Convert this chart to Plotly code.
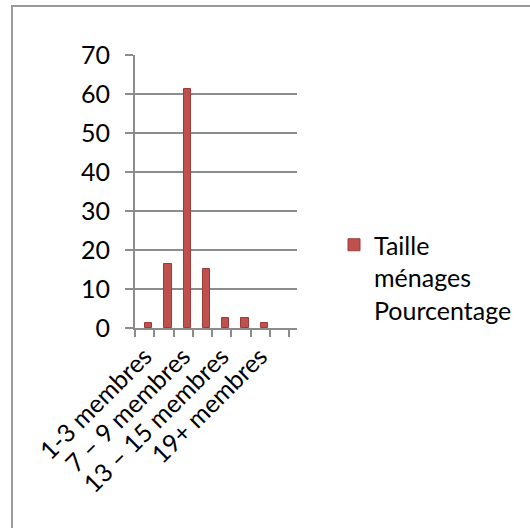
import plotly.graph_objects as go

# Data
categories = ["1-3 membres", "4 – 6 membres", "7 – 9 membres", "10 – 12 membres",
              "13 – 15 membres", "16 – 18 membres", "19+ membres", ""]
pourcentage = [1.2, 16.3, 61.4, 15.1, 2.5, 2.5, 1.2, None]
series_name = "Taille<br>ménages<br>Pourcentage"
y_ticks = [0, 10, 20, 30, 40, 50, 60, 70]

W, H = 530, 528
L, R, T, B = 135, 297, 55, 328  # plot area in pixels

x_pos = list(range(len(categories)))
n = len(categories)
unit = (289 - L) / n  # pixels per category at front floor
x_max = -0.5 + (R - L) / unit

def px_x(p):
    return (p - L) / (R - L)

def px_y(p):
    return (B - p) / (B - T)

fig = go.Figure()
fig.add_trace(go.Bar(
    x=x_pos, y=pourcentage, name=series_name,
    marker=dict(color="#C0504D", line=dict(color="#9E3B38", width=1)),
    width=0.38, offset=0.02,
    showlegend=True,
))

grid_col = "#8C8C8C"
font_family = "Lato, 'Open Sans', sans-serif"

fig.update_layout(
    width=W, height=H,
    margin=dict(l=L, r=W - R, t=T, b=H - B, pad=0),
    paper_bgcolor="white", plot_bgcolor="white",
    font=dict(family=font_family, size=25, color="black"),
    bargap=0,
    showlegend=True,
    legend=dict(
        x=px_x(334), y=px_y(222), xanchor="left", yanchor="top",
        font=dict(size=25, family=font_family, color="black"),
        itemwidth=30, valign="top", bgcolor="rgba(0,0,0,0)",
        tracegroupgap=0,
    ),
    xaxis=dict(
        range=[-0.5, x_max],
        tickmode="array", tickvals=x_pos[::2], ticktext=categories[::2],
        tickangle=-45, ticks="", showgrid=False, zeroline=False,
        showline=True, linecolor=grid_col, linewidth=2,
        tickfont=dict(size=25),
        ticklabelstandoff=2,
        minor=dict(tickmode="array", tickvals=[i - 0.5 for i in range(n + 1)],
                   ticks="outside", ticklen=7, tickcolor=grid_col, tickwidth=2,
                   showgrid=False),
        fixedrange=True,
    ),
    yaxis=dict(
        range=[0, 70], tickmode="array", tickvals=y_ticks,
        ticks="outside", ticklen=8, tickcolor=grid_col, tickwidth=2,
        showgrid=True, gridcolor=grid_col, gridwidth=2,
        zeroline=False, showline=True, linecolor=grid_col, linewidth=2,
        tickfont=dict(size=25), ticklabelstandoff=10,
        fixedrange=True,
    ),
    shapes=[dict(
        type="rect", xref="paper", yref="paper",
        x0=px_x(12), x1=px_x(W + 10), y0=px_y(H + 10), y1=px_y(6),
        line=dict(color="#9A9A9A", width=2), fillcolor="rgba(0,0,0,0)",
        layer="below",
    )],
)

fig.write_html("out.html")
